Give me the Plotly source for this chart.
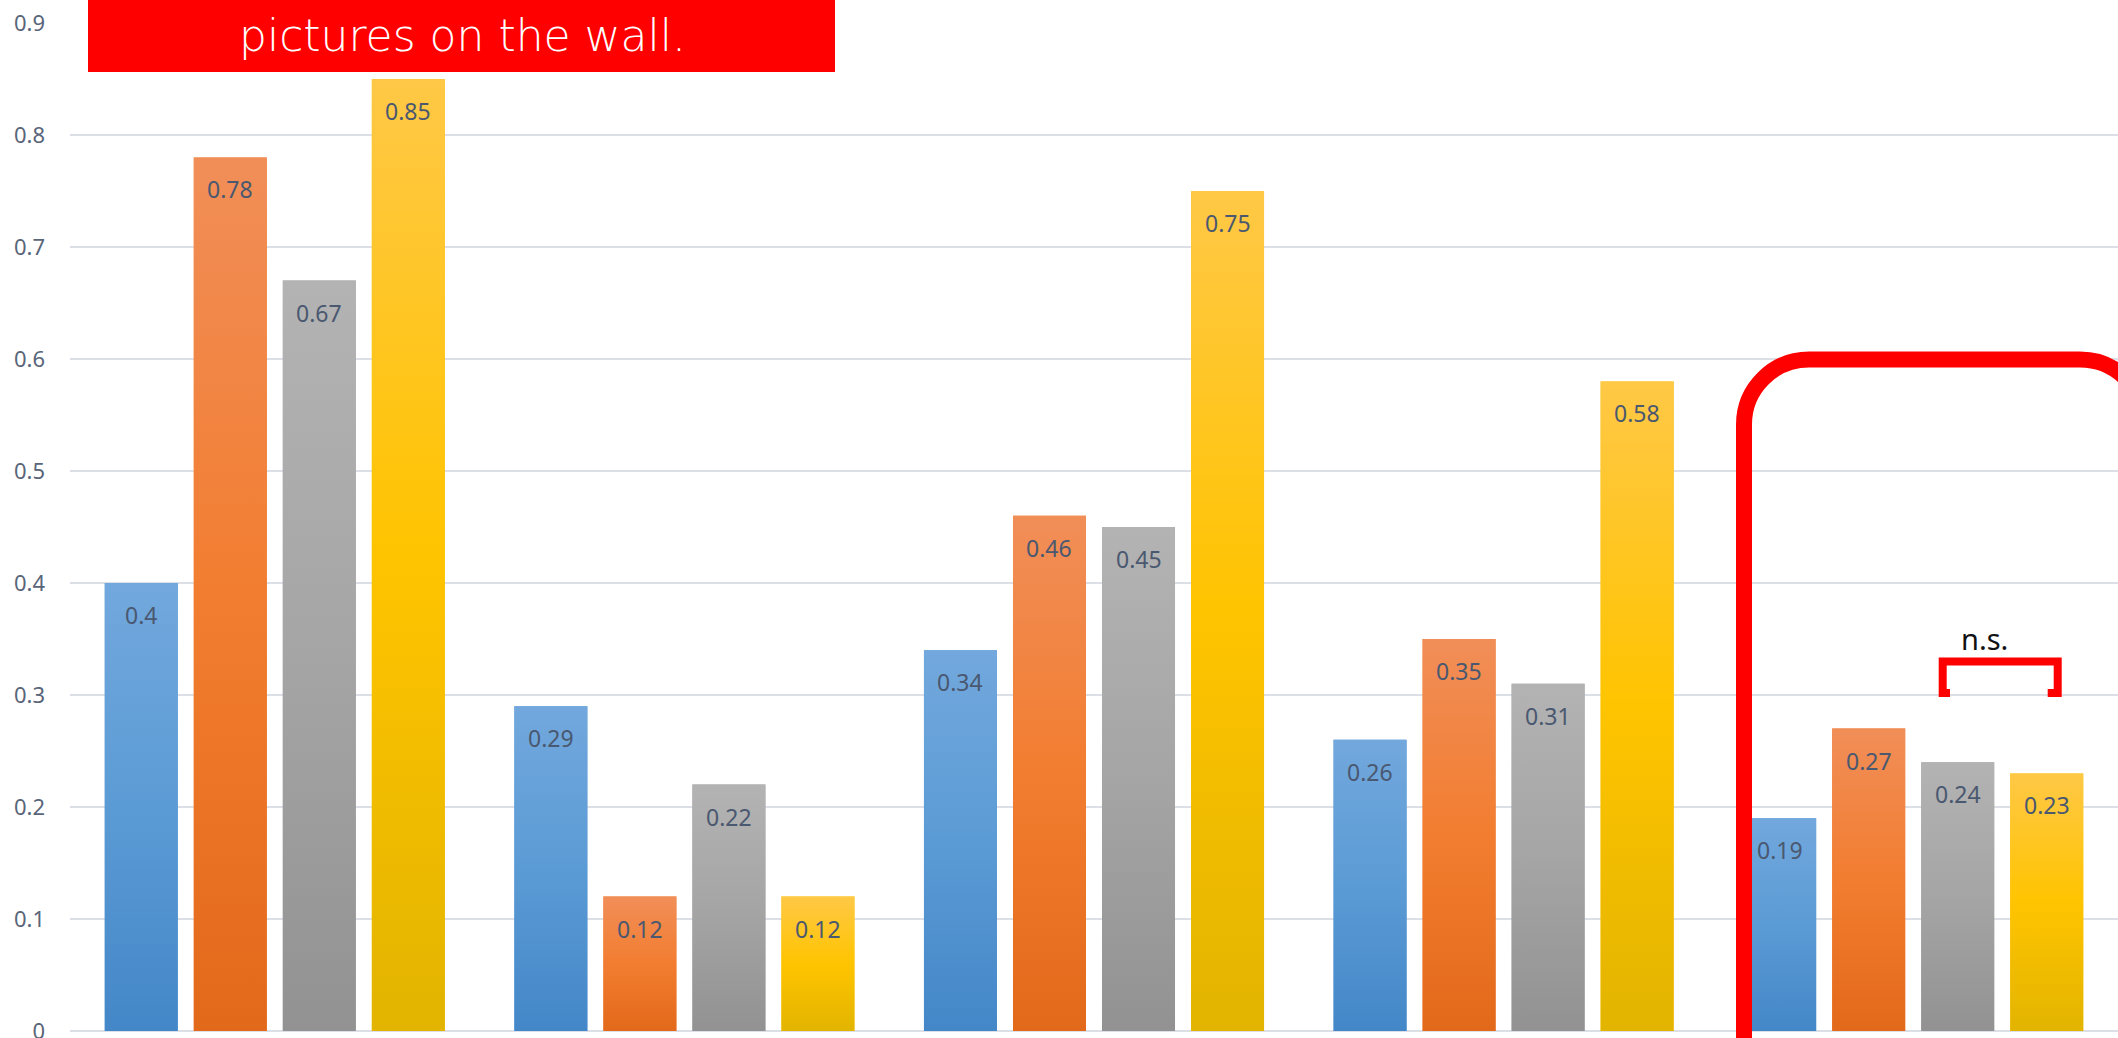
import plotly.graph_objects as go

# ---------------- data ----------------
categories = ["Group 1", "Group 2", "Group 3", "Group 4", "Group 5"]
series_names = ["Series 1", "Series 2", "Series 3", "Series 4"]
series_1 = [0.40, 0.29, 0.34, 0.26, 0.19]
series_2 = [0.78, 0.12, 0.46, 0.35, 0.27]
series_3 = [0.67, 0.22, 0.45, 0.31, 0.24]
series_4 = [0.85, 0.12, 0.75, 0.58, 0.23]
y_ticks = [0, 0.1, 0.2, 0.3, 0.4, 0.5, 0.6, 0.7, 0.8, 0.9]
y_tick_labels = ["0", "0.1", "0.2", "0.3", "0.4", "0.5", "0.6", "0.7", "0.8", "0.9"]
title_text = "pictures on the wall."
bracket_label = "n.s."

# ---------------- styles ----------------
# (bottom/dark, middle/base, top/light)
series_colors = [
    ("#4487C8", "#5B9BD5", "#72A8DD"),
    ("#E3691A", "#F27D30", "#F18E58"),
    ("#929292", "#A5A5A5", "#B3B3B3"),
    ("#E2B400", "#FFC400", "#FFC846"),
]
all_series = [series_1, series_2, series_3, series_4]

W, H = 2118, 1038
ML, MR, MT, MB = 70, 0, 23, 7
BARGAP = 0.1306
BARGROUPGAP = 0.18
n_series = len(all_series)
slot = (1 - BARGAP) / n_series
half_w = slot * (1 - BARGROUPGAP) / 2

plot_w = W - ML - MR
plot_h = H - MT - MB


def px(x):
    return (x - ML) / plot_w


def py(y):
    return (H - MB - y) / plot_h


fig = go.Figure()
xs = list(range(len(categories)))

# base bars (solid)
for s, (name, vals) in enumerate(zip(series_names, all_series)):
    fig.add_trace(go.Bar(
        x=xs, y=vals, name=name,
        marker=dict(color=series_colors[s][1], line=dict(width=0)),
        customdata=categories,
        hovertemplate="%{customdata}<br>" + name + ": %{y}<extra></extra>",
    ))

# gradient overlays per bar
for s, vals in enumerate(all_series):
    dark, base, light = series_colors[s]
    for c, v in enumerate(vals):
        xc = c + (s - (n_series - 1) / 2) * slot
        x0, x1 = xc - half_w, xc + half_w
        fig.add_trace(go.Scatter(
            x=[x0, x0, x1, x1, x0], y=[0, v, v, 0, 0],
            mode="lines", fill="toself",
            line=dict(width=0, color=base),
            fillcolor=base,
            fillgradient=dict(type="vertical",
                              colorscale=[[0, dark], [0.5, base], [1, light]]),
            hoverinfo="skip", showlegend=False,
        ))
        fig.add_annotation(
            x=xc, y=v, xref="x", yref="y", text=f"{v:g}",
            showarrow=False, yanchor="middle", yshift=-32,
            font=dict(family="Noto Sans", size=23, color="#4A5870"),
        )

# title box
fig.add_shape(type="rect", xref="paper", yref="paper",
              x0=px(88), x1=px(835), y0=py(72), y1=py(-5),
              fillcolor="#FF0000", line=dict(width=0), layer="above")
fig.add_annotation(xref="paper", yref="paper", x=px(462), y=py(36),
                   text=title_text, showarrow=False,
                   xanchor="center", yanchor="middle",
                   font=dict(family="DejaVu Sans", size=44, color="#FFFFFF", weight=300))

# rounded highlight frame
k = 0.5523
xl, xr = px(1744), px(2145)
yt, yb = py(359.5), py(1080)
rx, ry = 65 / plot_w, 65 / plot_h
path = (
    f"M {xl},{yb} L {xl},{yt - ry} "
    f"C {xl},{yt - ry + k * ry} {xl + rx - k * rx},{yt} {xl + rx},{yt} "
    f"L {xr - rx},{yt} "
    f"C {xr - rx + k * rx},{yt} {xr},{yt - ry + k * ry} {xr},{yt - ry} "
    f"L {xr},{yb}"
)
fig.add_shape(type="path", xref="paper", yref="paper", path=path,
              line=dict(color="#FF0000", width=16), layer="above")

# n.s. bracket
bpath = (
    f"M {px(1950)},{py(693)} L {px(1942.7)},{py(693)} "
    f"L {px(1942.7)},{py(661.6)} L {px(2057.7)},{py(661.6)} "
    f"L {px(2057.7)},{py(693)} L {px(2047.7)},{py(693)}"
)
fig.add_shape(type="path", xref="paper", yref="paper", path=bpath,
              line=dict(color="#FF0000", width=8), layer="above")
fig.add_annotation(xref="paper", yref="paper", x=px(1984), y=py(638),
                   text=bracket_label, showarrow=False,
                   xanchor="center", yanchor="middle",
                   font=dict(family="Noto Sans", size=29, color="#111111"))

fig.update_layout(
    width=W, height=H,
    margin=dict(l=ML, r=MR, t=MT, b=MB, pad=0, autoexpand=False),
    paper_bgcolor="#FFFFFF", plot_bgcolor="#FFFFFF",
    barmode="group", bargap=BARGAP, bargroupgap=BARGROUPGAP,
    showlegend=False,
    font=dict(family="Noto Sans"),
    xaxis=dict(range=[-0.5, len(categories) - 0.5], showgrid=False,
               showticklabels=False, zeroline=False, showline=False,
               automargin=False, fixedrange=True),
    yaxis=dict(range=[0, 0.9], tickvals=y_ticks, ticktext=y_tick_labels,
               showgrid=True, gridcolor="#DCE0E6", gridwidth=2,
               zeroline=True, zerolinecolor="#DCE0E6", zerolinewidth=2,
               showline=False, ticks="", ticklabelstandoff=24,
               ticklabeloverflow="allow", automargin=False,
               tickfont=dict(family="Noto Sans", size=22, color="#596579"),
               fixedrange=True),
)

fig.write_html("out.html")
